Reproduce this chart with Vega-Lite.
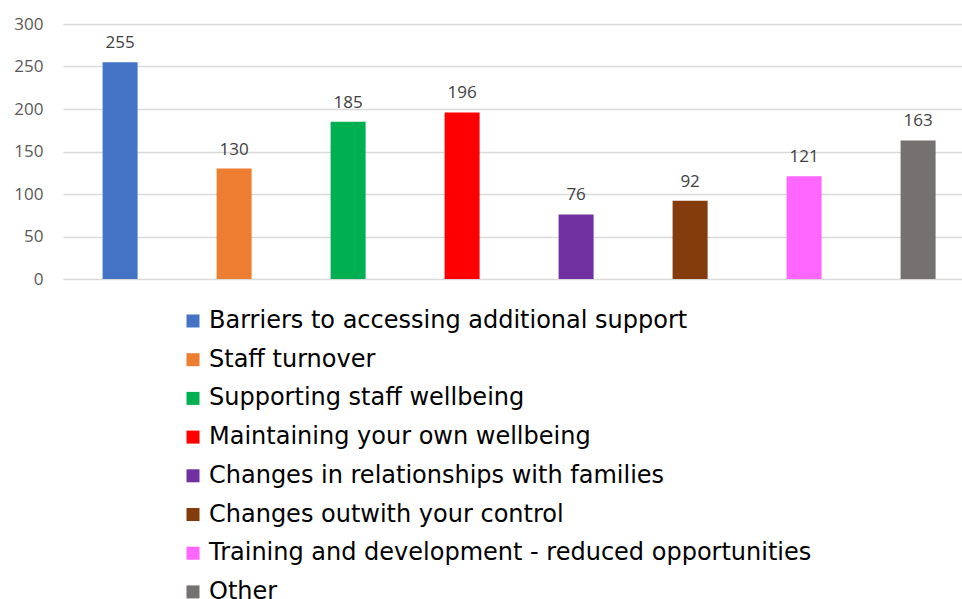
{
  "$schema": "https://vega.github.io/schema/vega-lite/v6.json",
  "width": 899,
  "height": 255,
  "autosize": {"type": "none"},
  "padding": {"left": 63, "top": 24, "right": 0, "bottom": 320},
  "background": "white",
  "config": {"view": {"stroke": null}},
  "data": {
    "values": [
      {"category": "Barriers to accessing additional support", "value": 255},
      {"category": "Staff turnover", "value": 130},
      {"category": "Supporting staff wellbeing", "value": 185},
      {"category": "Maintaining your own wellbeing", "value": 196},
      {"category": "Changes in relationships with families", "value": 76},
      {"category": "Changes outwith your control", "value": 92},
      {"category": "Training and development - reduced opportunities", "value": 121},
      {"category": "Other", "value": 163}
    ]
  },
  "encoding": {
    "x": {
      "field": "category",
      "type": "nominal",
      "sort": null,
      "axis": null,
      "scale": {"paddingInner": 0.693, "paddingOuter": 0.2895, "align": 0.6}
    },
    "y": {
      "field": "value",
      "type": "quantitative",
      "scale": {"domain": [0, 300], "nice": false},
      "axis": {
        "values": [0, 50, 100, 150, 200, 250, 300],
        "domain": false,
        "ticks": false,
        "labelPadding": 20,
        "labelFont": "Open Sans",
        "labelFontSize": 17,
        "labelColor": "#595959",
        "gridColor": "#d9d9d9",
        "gridWidth": 1.3,
        "title": null
      }
    }
  },
  "layer": [
    {
      "mark": {"type": "bar"},
      "encoding": {
        "color": {
          "field": "category",
          "type": "nominal",
          "sort": null,
          "scale": {
            "domain": [
              "Barriers to accessing additional support",
              "Staff turnover",
              "Supporting staff wellbeing",
              "Maintaining your own wellbeing",
              "Changes in relationships with families",
              "Changes outwith your control",
              "Training and development - reduced opportunities",
              "Other"
            ],
            "range": ["#4472C4", "#ED7D31", "#00B050", "#FF0000", "#7030A0", "#843C0C", "#FF66FF", "#767171"]
          },
          "legend": {
            "orient": "none",
            "legendX": 118,
            "legendY": 285,
            "direction": "vertical",
            "title": null,
            "padding": 0,
            "symbolType": "square",
            "symbolSize": 169,
            "symbolStrokeWidth": 0,
            "symbolOpacity": 1,
            "labelFont": "DejaVu Sans",
            "labelFontSize": 24,
            "labelColor": "#000000",
            "labelLimit": 800,
            "labelOffset": 4,
            "rowPadding": 14.7
          }
        }
      }
    },
    {
      "mark": {"type": "text", "baseline": "alphabetic", "dy": -14, "font": "Open Sans", "fontSize": 17, "color": "#404040"},
      "encoding": {"text": {"field": "value", "type": "quantitative"}}
    }
  ]
}
